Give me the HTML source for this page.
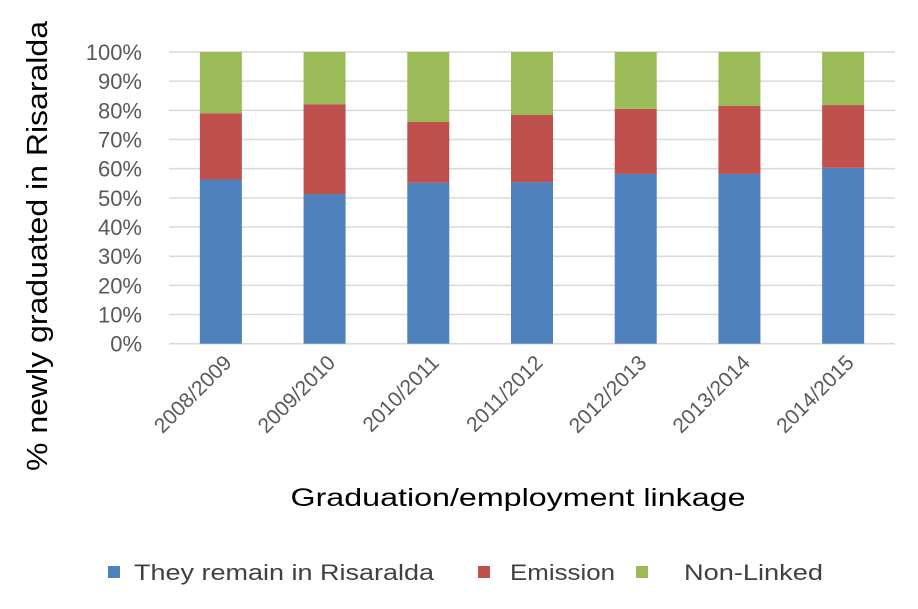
<!DOCTYPE html>
<html><head><meta charset="utf-8"><style>
body{margin:0;background:#fff;}
svg text{font-family:"Liberation Sans",sans-serif;}
</style></head><body>
<svg id="chart" width="918" height="604" xmlns="http://www.w3.org/2000/svg">
<g id="grid"></g>
<g id="ylabels"></g>
<g id="bars"></g>
<g id="xlabels"></g>
<text x="0" y="0" transform="translate(47,246) rotate(-90)" text-anchor="middle" font-size="29" fill="#000" textLength="450" lengthAdjust="spacingAndGlyphs">% newly graduated in Risaralda</text>
<text x="518" y="506" text-anchor="middle" font-size="25" fill="#000" textLength="455" lengthAdjust="spacingAndGlyphs">Graduation/employment linkage</text>
<g>
<rect x="108" y="566" width="12" height="12" fill="#4f81bd"/>
<text x="134" y="580" font-size="22" fill="#404040" textLength="300" lengthAdjust="spacingAndGlyphs">They remain in Risaralda</text>
<rect x="478" y="566" width="12" height="12" fill="#c0504d"/>
<text x="510" y="580" font-size="22" fill="#404040" textLength="105" lengthAdjust="spacingAndGlyphs">Emission</text>
<rect x="636" y="566" width="12" height="12" fill="#9bbb59"/>
<text x="684" y="580" font-size="22" fill="#404040" textLength="139" lengthAdjust="spacingAndGlyphs">Non-Linked</text>
</g>
</svg>
<script>
const categories=["2008/2009","2009/2010","2010/2011","2011/2012","2012/2013","2013/2014","2014/2015"];
const remain=[56.3,51.3,55.2,55.4,58.2,58.2,60.3];
const emission=[22.7,30.8,20.8,23.0,22.3,23.3,21.5];
const nonLinked=[21.0,17.9,24.0,21.6,19.5,18.5,18.2];
const yTicks=[0,10,20,30,40,50,60,70,80,90,100];
const NS="http://www.w3.org/2000/svg";
const plotLeft=169,plotRight=895,plotTop=52,plotBottom=343.7;
const band=(plotRight-plotLeft)/categories.length, bw=42;
const yScale=v=>plotBottom-(v/100)*(plotBottom-plotTop);
const xc=i=>plotLeft+band*(i+0.5);
function mk(t,a,p){const e=document.createElementNS(NS,t);for(const k in a)e.setAttribute(k,a[k]);p.appendChild(e);return e;}
const grid=document.getElementById('grid'),yl=document.getElementById('ylabels'),bars=document.getElementById('bars'),xl=document.getElementById('xlabels');
yTicks.forEach(t=>{
  const l=mk('line',{x1:plotLeft,x2:plotRight,y1:yScale(t),y2:yScale(t),stroke:'#d9d9d9','stroke-width':1.5},grid);
  
  
  const tx=mk('text',{x:142,y:yScale(t)+8,'text-anchor':'end','font-size':22,fill:'#595959'},yl);
  tx.textContent=t+'%';
  
  
});
const series=[[remain,'#4f81bd','remain'],[emission,'#c0504d','emission'],[nonLinked,'#9bbb59','non-linked']];
categories.forEach((c,i)=>{
  let base=0;
  series.forEach(([vals,col,nm])=>{
    const v=vals[i];
    const r=mk('rect',{x:xc(i)-bw/2,y:yScale(base+v),width:bw,height:yScale(base)-yScale(base+v),fill:col},bars);
    
    
    base+=v;
  });
  const tx=mk('text',{x:0,y:0,'text-anchor':'end','font-size':21,fill:'#595959',transform:`translate(${xc(i)+12},${364}) rotate(-45)`},xl);
  tx.textContent=c;
  
  
});
</script>
</body></html>
